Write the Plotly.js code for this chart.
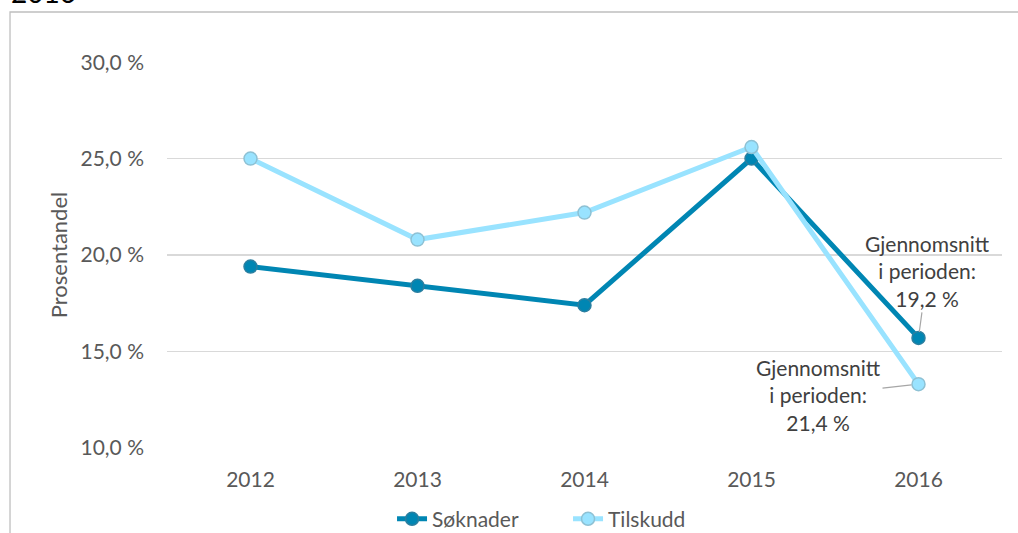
<!DOCTYPE html>
<html>
<head>
<meta charset="utf-8">
<script src="https://cdn.plot.ly/plotly-3.0.1.min.js"></script>
<style>
html,body{margin:0;padding:0;background:#fff;}
#chart{width:1018px;height:533px;}
</style>
</head>
<body>
<div id="chart"></div>
<script>
const years = ["2012", "2013", "2014", "2015", "2016"];
const soknader = [19.4, 18.4, 17.4, 25.0, 15.7];
const tilskudd = [25.0, 20.8, 22.2, 25.6, 13.3];
const tickVals = [10, 15, 20, 25, 30];
const tickText = ["10,0 %", "15,0 %", "20,0 %", "25,0 %", "30,0 %"];
const seriesNames = ["Søknader", "Tilskudd"];
const avgSoknader = "19,2 %";
const avgTilskudd = "21,4 %";
const titleText = "2016";

const FONT = "Lato, 'Noto Sans', sans-serif";
const lastIdx = years.length - 1;

const traces = [
  {
    x: years, y: soknader, name: seriesNames[0], type: "scatter", mode: "lines+markers",
    line: {color: "#0086b3", width: 5},
    marker: {size: 13, color: "#0086b3", line: {color: "#2b7fa0", width: 1.5}},
    hoverinfo: "skip"
  },
  {
    x: years, y: tilskudd, name: seriesNames[1], type: "scatter", mode: "lines+markers",
    line: {color: "#99e3ff", width: 5},
    marker: {size: 13, color: "#99e3ff", line: {color: "#8ec1d4", width: 1.5}},
    hoverinfo: "skip"
  }
];

const layout = {
  width: 1018, height: 533,
  margin: {l: 167, r: 16, t: 62, b: 85, autoexpand: false},
  paper_bgcolor: "#fff", plot_bgcolor: "#fff",
  font: {family: FONT, size: 20, color: "#595959"},
  showlegend: true,
  legend: {
    orientation: "h", x: 0.2695, xanchor: "left",
    yref: "container", y: 0.026, yanchor: "middle",
    font: {family: FONT, size: 21, color: "#595959"},
    entrywidth: 131, entrywidthmode: "pixels", tracegroupgap: 0, bgcolor: "rgba(0,0,0,0)"
  },
  xaxis: {
    type: "category", range: [-0.5, 4.5], showgrid: false, zeroline: false,
    showline: false, ticks: "", ticklen: 0, automargin: false, ticklabelstandoff: 17,
    tickfont: {family: FONT, size: 21, color: "#595959"}, fixedrange: true
  },
  yaxis: {
    range: [9.99, 30.01], tickvals: tickVals, ticktext: tickText,
    showgrid: true, gridcolor: "#d9d9d9", gridwidth: 1.3, zeroline: false, showline: false,
    ticks: "", ticklabelstandoff: 22, automargin: false,
    tickfont: {family: FONT, size: 21, color: "#595959"},
    title: {text: "Prosentandel", font: {family: FONT, size: 22, color: "#595959"}, standoff: 6},
    fixedrange: true
  },
  shapes: [
    {type: "path", xref: "paper", yref: "paper",
     path: "M -0.188,-0.3 L -0.188,1.1295 L 1.1,1.1295",
     line: {color: "#bfbfbf", width: 1.3}}
  ],
  annotations: [
    {x: -0.189, y: 1.131, xref: "paper", yref: "paper", xanchor: "left", yanchor: "bottom",
     text: titleText, showarrow: false, font: {family: FONT, size: 28, color: "#000"}},
    {x: lastIdx, y: soknader[lastIdx], xref: "x", yref: "y",
     text: "Gjennomsnitt<br>i perioden:<br>" + avgSoknader,
     showarrow: true, arrowhead: 0, arrowwidth: 1.2, arrowcolor: "#a6a6a6",
     ax: 9, ay: -67, standoff: 6, align: "center",
     font: {family: FONT, size: 21, color: "#404040"}},
    {x: lastIdx, y: tilskudd[lastIdx], xref: "x", yref: "y",
     text: "Gjennomsnitt<br>i perioden:<br>" + avgTilskudd,
     showarrow: true, arrowhead: 0, arrowwidth: 1.2, arrowcolor: "#a6a6a6",
     ax: -100, ay: 11, standoff: 7, align: "center",
     font: {family: FONT, size: 21, color: "#404040"}}
  ]
};

Plotly.newPlot("chart", traces, layout, {displayModeBar: false, staticPlot: true});
</script>
</body>
</html>
